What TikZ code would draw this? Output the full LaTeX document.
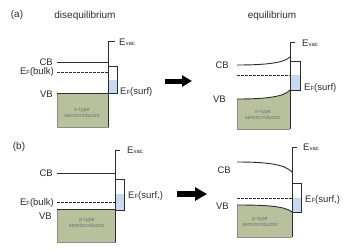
\documentclass[tikz,border=0pt]{standalone}
\usepackage{fontspec}
\setmainfont{Liberation Sans}
\usetikzlibrary{arrows.meta}
\definecolor{semig}{RGB}{184,192,156}
\definecolor{surfb}{RGB}{200,218,240}
\definecolor{ink}{RGB}{45,45,45}
\newcommand{\Esub}[1]{E\raisebox{-0.3pt}{\fontsize{6}{6}\selectfont #1}}
\tikzset{
  band/.style={line width=0.9pt, draw=ink},
  vline/.style={line width=1pt, draw=ink},
  boxline/.style={line width=0.8pt, draw=ink},
  fermi/.style={line width=0.7pt, draw=ink, dash pattern=on 2.5pt off 1.5pt},
  semibox/.style={fill=semig, draw=black!45, line width=0.4pt},
  surffill/.style={fill=surfb},
  lbl/.style={font=\fontsize{9.5}{10}\selectfont, text=ink, inner sep=0pt},
  ttl/.style={font=\fontsize{10}{11}\selectfont, text=ink, inner sep=0pt},
  semitext/.style={font=\fontsize{5.5}{6}\selectfont, text=black!55, inner sep=0pt},
  smallarrow/.style={line width=5pt, draw=black, -{Triangle[length=10pt,width=11pt]}},
  largearrow/.style={line width=6pt, draw=black, -{Triangle[length=12pt,width=13pt]}},
}
\begin{document}
\begin{tikzpicture}[x=1pt,y=-1pt]
\useasboundingbox (0,0) rectangle (350,250);
\fill[white] (0,0) rectangle (350,250);

% titles
\node[ttl] (la) at (17,15) {(a)};
\node[ttl] (tdis) at (85,16) {disequilibrium};
\node[ttl] (teq) at (272,16) {equilibrium};
\node[ttl] (lb) at (19,147) {(b)};

% ---------- panel (a) left ----------
\draw[semibox] (57,93) rectangle (108,127);
\fill[surffill] (108,80) rectangle (117,93);
\draw[boxline] (108,66) rectangle (117,93);
\draw[band] (57,62) -- (108,62);
\draw[fermi] (57,72) -- (108,72);
\draw[band] (57,93) -- (108,93);
\draw[vline] (115,41) -- (108,41) -- (108,127);
\node[lbl, anchor=east] (cba) at (53,62) {CB};
\node[lbl, anchor=east] (efba) at (54,72) {\Esub{F}(bulk)};
\node[lbl, anchor=east] (vba) at (53,94) {VB};
\node[lbl, anchor=west] (evaca) at (119,42) {\Esub{vac}};
\node[lbl, anchor=west] (efsa) at (120,92) {\Esub{F}(surf)};
\node[semitext] (na1) at (82,110) {n-type};
\node[semitext] (na2) at (82,116) {semiconductor};

% ---------- panel (a) right ----------
\fill[semig] (237,99) .. controls (265,99) and (284,97) .. (290,90) -- (290,129) -- (237,129) -- cycle;
\draw[black!45, line width=0.4pt] (237,99) -- (237,129) -- (290,129);
\fill[surffill] (290,75) rectangle (300,90);
\draw[boxline] (290,61) rectangle (300,90);
\draw[band] (237,65) .. controls (265,65) and (284,63) .. (290,57);
\draw[fermi] (237,75) -- (290,75);
\draw[band] (237,99) .. controls (265,99) and (284,97) .. (290,90);
\draw[vline] (295,42) -- (290,42) -- (290,129);
\node[lbl, anchor=east] (cbar) at (229,65) {CB};
\node[lbl, anchor=east] (vbar) at (226,99) {VB};
\node[lbl, anchor=west] (evacar) at (302,43) {\Esub{vac}};
\node[lbl, anchor=west] (efsar) at (304,88) {\Esub{F}(surf)};
\node[semitext] (nar1) at (263,112) {n-type};
\node[semitext] (nar2) at (263,118) {semiconductor};

% ---------- panel (b) left ----------
\draw[semibox] (57,209) rectangle (115,242);
\fill[surffill] (115,194) rectangle (124,210);
\draw[boxline] (115,179) rectangle (124,210);
\draw[band] (57,173) -- (115,173);
\draw[fermi] (57,202) -- (115,202);
\draw[band] (57,209) -- (115,209);
\draw[vline] (120,150) -- (115,150) -- (115,242);
\node[lbl, anchor=east] (cbb) at (53,173) {CB};
\node[lbl, anchor=east] (efbb) at (54,203) {\Esub{F}(bulk)};
\node[lbl, anchor=east] (vbb) at (52,216) {VB};
\node[lbl, anchor=west] (evacb) at (127,150) {\Esub{vac}};
\node[lbl, anchor=west] (efsb) at (128,196) {\Esub{F}(surf,)};
\node[semitext] (pb1) at (87,220) {p-type};
\node[semitext] (pb2) at (87,226) {semiconductor};

% ---------- panel (b) right ----------
\fill[semig] (237,205) .. controls (265,205) and (285,206) .. (292,212) -- (292,237) -- (237,237) -- cycle;
\draw[black!45, line width=0.4pt] (237,205) -- (237,237) -- (292,237);
\fill[surffill] (292,198) rectangle (301,212);
\draw[boxline] (292,183) rectangle (301,212);
\draw[band] (237,162) .. controls (265,162) and (285,164) .. (292,172);
\draw[fermi] (237,198) -- (292,198);
\draw[band] (237,205) .. controls (265,205) and (285,206) .. (292,212);
\draw[vline] (297,147) -- (292,147) -- (292,237);
\node[lbl, anchor=east] (cbbr) at (231,170) {CB};
\node[lbl, anchor=east] (vbbr) at (229,206) {VB};
\node[lbl, anchor=west] (evacbr) at (303,147) {\Esub{vac}};
\node[lbl, anchor=west] (efsbr) at (305,200) {\Esub{F}(surf,)};
\node[semitext] (pbr1) at (260,219) {p-type};
\node[semitext] (pbr2) at (260,225) {semiconductor};

% ---------- arrows ----------
\coordinate (a1s) at (165,81);
\coordinate (a1e) at (192,81);
\coordinate (a2s) at (177,194);
\coordinate (a2e) at (207,194);
\draw[smallarrow] (a1s) -- (a1e);
\draw[largearrow] (a2s) -- (a2e);
\end{tikzpicture}
\end{document}
